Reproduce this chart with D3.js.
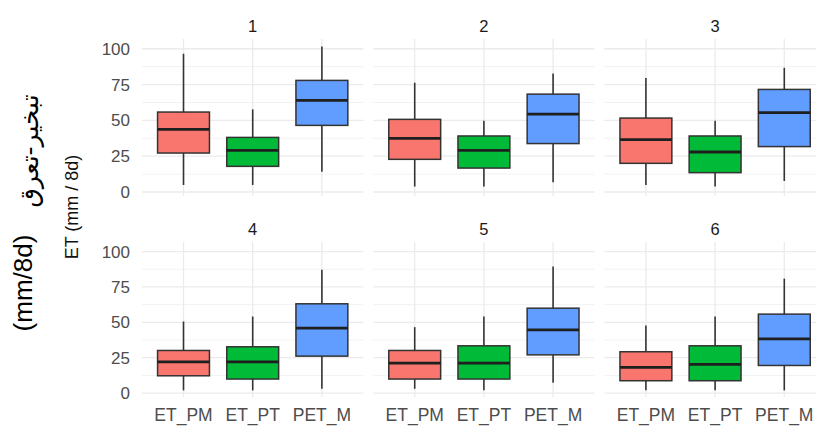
<!DOCTYPE html>
<html>
<head>
<meta charset="utf-8">
<script src="https://cdn.jsdelivr.net/npm/d3@7"></script>
<style>
  body { margin: 0; background: #fff; }
  svg { display: block; font-family: "Liberation Sans", Arial, sans-serif; }
</style>
</head>
<body>
<svg id="chart" width="816" height="427"></svg>
<script>
// facet labels and categories
const panels = ['1', '2', '3', '4', '5', '6']
const methods = ['ET_PM', 'ET_PT', 'PET_M']
const colors = ['#F8766D', '#00BA38', '#619CFF']
const yTicks = [0, 25, 50, 75, 100]

// box stats per panel, in method order: [low, q1, median, q3, high]
const panel1 = [[4.9, 27.2, 43.7, 55.8, 96.5], [4.9, 17.9, 29.1, 38.1, 57.7], [14.2, 46.5, 63.9, 77.9, 101.6]]
const panel2 = [[3.8, 22.8, 37.4, 50.7, 76.3], [3.8, 16.7, 29.1, 39.1, 49.8], [6.8, 33.8, 54.4, 68.3, 82.8]]
const panel3 = [[4.9, 20.0, 36.5, 51.6, 79.5], [3.8, 13.5, 27.9, 39.1, 49.8], [7.7, 31.7, 55.4, 71.6, 86.7]]
const panel4 = [[1.9, 12.2, 22.1, 30.1, 50.6], [1.9, 9.9, 22.1, 32.7, 54.1], [3.0, 26.1, 45.9, 63.1, 87.1]]
const panel5 = [[3.0, 9.9, 21.2, 30.1, 46.6], [1.9, 9.9, 21.2, 33.4, 54.1], [7.3, 27.0, 44.7, 60.0, 89.4]]
const panel6 = [[1.9, 8.7, 18.1, 29.2, 47.7], [1.9, 8.7, 20.2, 33.4, 54.1], [1.9, 19.5, 38.3, 55.8, 80.9]]
const stats = [panel1, panel2, panel3, panel4, panel5, panel6]

const svg = d3.select('#chart')

// layout
const panelW = 221.4
const colX = [142, 373.2, 604.4]
const rowY = [39, 242]
const rowH = [157, 155]
const yDomain = [-2.8, 106.8]

stats.forEach((boxes, i) => {
    const col = i % 3, row = Math.floor(i / 3)
    const x0 = colX[col], y0 = rowY[row]

    // ggplot discrete expansion: 0.6 units either side
    const step = panelW / 3.2
    const x = d3.scaleBand().domain(methods)
        .range([x0 + 0.1 * step, x0 + panelW - 0.1 * step])
    const y = d3.scaleLinear().domain(yDomain).range([y0 + rowH[row], y0])
    const cx = m => x(m) + x.bandwidth() / 2

    const g = svg.append('g')

    // minor grid
    g.selectAll('.minor')
        .data([12.5, 37.5, 62.5, 87.5])
        .enter().append('line')
        .attr('x1', x0).attr('x2', x0 + panelW)
        .attr('y1', d => y(d)).attr('y2', d => y(d))
        .attr('stroke', '#f2f2f2').attr('stroke-width', 1)

    // major grid
    g.selectAll('.hmajor')
        .data(yTicks)
        .enter().append('line')
        .attr('x1', x0).attr('x2', x0 + panelW)
        .attr('y1', d => y(d)).attr('y2', d => y(d))
        .attr('stroke', '#ebebeb').attr('stroke-width', 1.3)

    g.selectAll('.vmajor')
        .data(methods)
        .enter().append('line')
        .attr('x1', cx).attr('x2', cx)
        .attr('y1', y0).attr('y2', y0 + rowH[row])
        .attr('stroke', '#ebebeb').attr('stroke-width', 1.3)

    // strip label
    g.append('text')
        .attr('x', x0 + panelW / 2).attr('y', y0 - 7)
        .attr('text-anchor', 'middle')
        .attr('font-size', 16.5).attr('fill', '#1a1a1a')
        .text(panels[i])

    const boxW = step * 0.75
    const box = g.selectAll('.box')
        .data(boxes.map((s, j) => ({ m: methods[j], s, c: colors[j] })))
        .enter().append('g')

    box.append('line')
        .attr('x1', d => cx(d.m)).attr('x2', d => cx(d.m))
        .attr('y1', d => y(d.s[0])).attr('y2', d => y(d.s[4]))
        .attr('stroke', '#333').attr('stroke-width', 1.6)

    box.append('rect')
        .attr('x', d => cx(d.m) - boxW / 2)
        .attr('width', boxW)
        .attr('y', d => y(d.s[3]))
        .attr('height', d => y(d.s[1]) - y(d.s[3]))
        .attr('fill', d => d.c)
        .attr('stroke', '#333').attr('stroke-width', 1.5)

    box.append('line')
        .attr('x1', d => cx(d.m) - boxW / 2).attr('x2', d => cx(d.m) + boxW / 2)
        .attr('y1', d => y(d.s[2])).attr('y2', d => y(d.s[2]))
        .attr('stroke', '#1f1f1f').attr('stroke-width', 2.8)

    // y axis labels on the first column
    if (col === 0) {
        g.selectAll('.ytick')
            .data(yTicks)
            .enter().append('text')
            .attr('x', 130).attr('y', d => y(d))
            .attr('dy', '0.36em')
            .attr('text-anchor', 'end')
            .attr('font-size', 17).attr('fill', '#4d4d4d')
            .text(d => d)
    }

    // x axis labels on the bottom row
    if (row === 1) {
        g.selectAll('.xtick')
            .data(methods)
            .enter().append('text')
            .attr('x', cx).attr('y', 421)
            .attr('text-anchor', 'middle')
            .attr('font-size', 17.5).attr('fill', '#4d4d4d')
            .text(d => d)
    }
})

// axis titles
svg.append('text')
    .attr('transform', 'translate(78,207) rotate(-90)')
    .attr('text-anchor', 'middle')
    .attr('font-size', 18).attr('fill', '#111')
    .text('ET (mm / 8d)')

svg.append('text')
    .attr('transform', 'translate(32,283) rotate(-90)')
    .attr('text-anchor', 'middle')
    .attr('font-size', 26).attr('fill', '#000')
    .text('(mm/8d)')

svg.append('text')
    .attr('transform', 'translate(38,151) rotate(-90)')
    .attr('text-anchor', 'middle')
    .attr('font-family', '"DejaVu Sans", sans-serif')
    .attr('font-size', 25).attr('fill', '#000')
    .text('تبخير-تعرق')
</script>
</body>
</html>
